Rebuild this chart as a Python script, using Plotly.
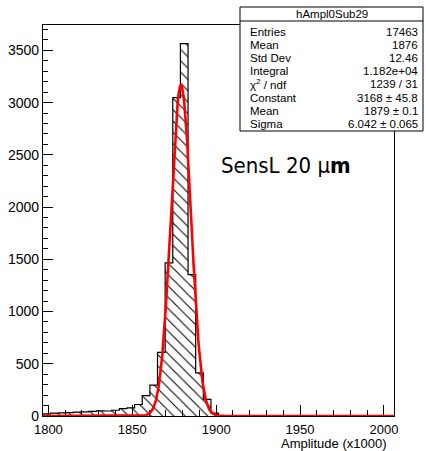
import numpy as np
import plotly.graph_objects as go

# ---- data ----
bin_start = 1796.8
bin_width = 4.55
counts = [20, 28, 30, 32, 38, 40, 45, 50, 48, 55, 70, 78, 110, 196, 295, 610,
          1465, 3048, 3565, 1353, 413, 160, 28, 3,
          0, 0, 0, 0, 0, 0, 0, 0, 0, 0, 0, 0, 0, 0, 0, 0, 0, 0, 0, 0, 0, 0]
fit_constant = 3168.0
fit_mean = 1879.0
fit_sigma = 6.042
stat_title = "hAmpl0Sub29"
stat_labels = ["Entries", "Mean", "Std Dev", "Integral", "χ<sup>2</sup> / ndf",
               "Constant", "Mean", "Sigma"]
stat_values = ["17463", "1876", "12.46", "1.182e+04", "1239 / 31",
               "3168 ± 45.8", "1879 ± 0.1", "6.042 ± 0.065"]
x_range = [1796.8, 2006.0]
y_range = [0, 3743]
x_title = "Amplitude (x1000)"
label_text = "SensL 20 μ<b>m</b>"

# ---- geometry ----
W, H = 426, 451
L, R, T, B = 43, 32, 25, 35
PW, PH = W - L - R, H - T - B


def px(x):
    return (x - L) / PW


def py(y):
    return (H - B - y) / PH


n = len(counts)
edges = [bin_start + i * bin_width for i in range(n + 1)]
centers = [bin_start + (i + 0.5) * bin_width for i in range(n)]

fig = go.Figure()
fig.add_trace(go.Bar(
    x=centers, y=counts, width=bin_width,
    marker=dict(color="black", line=dict(width=0),
                pattern=dict(shape="\\", size=8, solidity=0.13,
                             fgcolor="black", bgcolor="rgba(0,0,0,0)",
                             fillmode="replace")),
    hoverinfo="skip", showlegend=False))

sx = [edges[0]] + edges[:-1] + [edges[-1]]
sy = [0] + counts + [0]
fig.add_trace(go.Scatter(x=sx, y=sy, mode="lines", line=dict(shape="hv", color="black", width=1.2),
                         hoverinfo="skip", showlegend=False))

xf = np.linspace(x_range[0], x_range[1], 600)
yf = fit_constant * np.exp(-0.5 * ((xf - fit_mean) / fit_sigma) ** 2)
fig.add_trace(go.Scatter(x=xf, y=yf, mode="lines", line=dict(color="#ff0000", width=2.6),
                         hoverinfo="skip", showlegend=False))

axfont = dict(family="Liberation Sans, Arial, sans-serif", size=14, color="black")
fig.update_xaxes(range=x_range, showline=True, linecolor="black", linewidth=1.2, mirror=True,
                 ticks="inside", ticklen=11, tickcolor="black", tickwidth=1,
                 tick0=1800, dtick=50, tickfont=dict(family="Liberation Sans, Arial, sans-serif", size=13, color="black"),
                 showgrid=False, zeroline=False, ticklabelstandoff=1,
                 minor=dict(dtick=10, tick0=1800, ticklen=6, tickcolor="black", ticks="inside", showgrid=False),
                 layer="below traces", fixedrange=True)
fig.update_yaxes(range=y_range, showline=True, linecolor="black", linewidth=1.2, mirror=True,
                 ticks="inside", ticklen=10, tickcolor="black", tickwidth=1,
                 tick0=0, dtick=500, tickfont=axfont, showgrid=False, zeroline=False,
                 minor=dict(dtick=100, ticklen=5, tickcolor="black", ticks="inside", showgrid=False),
                 layer="below traces", fixedrange=True)

shapes = []
annotations = []
# stat box
bx0, bx1, by0, by1, bsep = 240, 423, 7, 131, 21
shapes.append(dict(type="rect", xref="paper", yref="paper", x0=px(bx0), x1=px(bx1), y0=py(by1), y1=py(by0),
                   fillcolor="white", line=dict(color="black", width=1), layer="above"))
shapes.append(dict(type="line", xref="paper", yref="paper", x0=px(bx0), x1=px(bx1), y0=py(bsep), y1=py(bsep),
                   line=dict(color="black", width=1), layer="above"))
sfont = dict(family="Liberation Sans, Arial, sans-serif", size=11.5, color="black")
annotations.append(dict(text=stat_title, xref="paper", yref="paper", x=px((bx0 + bx1) / 2), y=py(14),
                        xanchor="center", yanchor="middle", showarrow=False, font=sfont))
for i, (lab, val) in enumerate(zip(stat_labels, stat_values)):
    yy = 32 + 13.1 * i
    annotations.append(dict(text=lab, xref="paper", yref="paper", x=px(248), y=py(yy),
                            xanchor="left", yanchor="middle", showarrow=False, font=sfont))
    annotations.append(dict(text=val, xref="paper", yref="paper", x=px(420), y=py(yy),
                            xanchor="right", yanchor="middle", showarrow=False, font=sfont))

annotations.append(dict(text=x_title, xref="paper", yref="paper", x=px(389), y=py(443.5),
                        xanchor="right", yanchor="middle", showarrow=False,
                        font=dict(family="Liberation Sans, Arial, sans-serif", size=13, color="black")))
annotations.append(dict(text=label_text, xref="paper", yref="paper", x=px(219), y=py(165),
                        xanchor="left", yanchor="middle", showarrow=False,
                        font=dict(family="DejaVu Sans Condensed, Liberation Sans Narrow, DejaVu Sans, sans-serif",
                                  size=22, color="black")))

fig.update_layout(width=W, height=H, margin=dict(l=L, r=R, t=T, b=B, autoexpand=False),
                  paper_bgcolor="white", plot_bgcolor="white", bargap=0,
                  shapes=shapes, annotations=annotations, showlegend=False)

fig.write_html("out.html", config={"displayModeBar": False})
